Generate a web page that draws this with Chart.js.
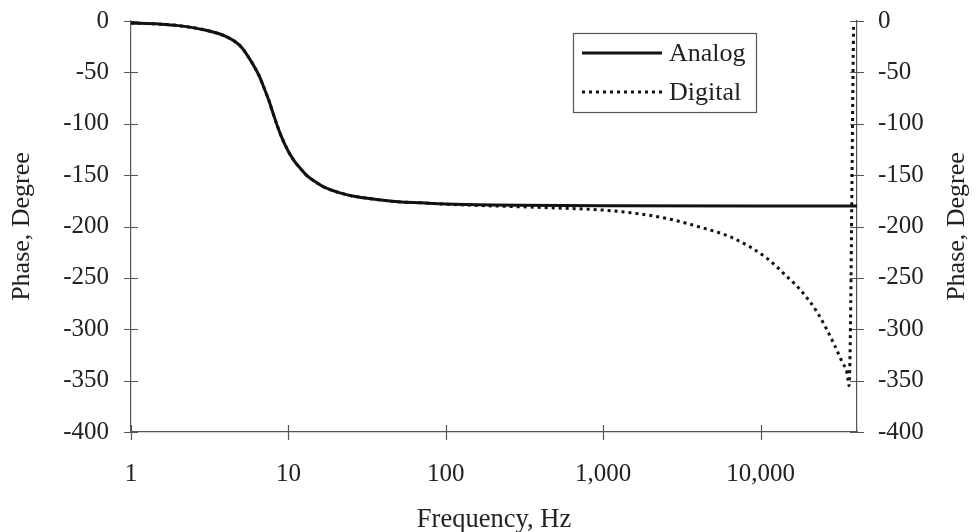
<!DOCTYPE html>
<html>
<head>
<meta charset="utf-8">
<title>Phase response</title>
<script src="https://cdn.jsdelivr.net/npm/chart.js@4.4.1/dist/chart.umd.min.js"></script>
<style>
  html, body { margin: 0; padding: 0; background: #fff; }
</style>
</head>
<body>
<canvas id="phaseChart" width="980" height="532"></canvas>
<script>
// values
const analogFreq  = [1, 1.5, 2, 3, 4, 5, 6, 6.5, 7, 7.5, 8, 8.5, 9, 10, 11, 12, 13, 15, 17, 20, 25, 30, 40, 50, 70, 100, 200, 300, 1000, 41000];
const analogPhase = [-2, -3, -4.5, -9, -15, -25, -43, -53, -65, -77, -90, -102, -112, -127, -137, -144, -150, -157, -162, -166, -170, -172, -174.5, -176, -177, -178, -179, -179.3, -179.7, -180];

const digitalFreq  = [1, 1.5, 2, 3, 4, 5, 6, 6.5, 7, 7.5, 8, 8.5, 9, 10, 11, 12, 13, 15, 17, 20, 25, 30, 40, 50, 70, 100, 200, 300, 500, 1000, 1560, 2500, 4000, 6750, 11000, 15000, 18000, 23000, 29000, 33000, 35500, 36500, 39000];
const digitalPhase = [-2, -3, -4.5, -9, -15, -25, -43, -53, -65, -77, -90, -102, -112, -127, -137, -144, -150, -157, -162, -166, -170, -172, -174.5, -176, -177, -178.3, -180, -180.8, -182, -184, -187, -192, -200, -211.5, -231, -250, -262, -284, -313, -332, -343, -355, -3];

const freqTicks = [1, 10, 100, 1000, 10000];
const freqMin = 1;
const freqMax = 41000;
const phaseMin = -400;
const phaseMax = 0;
const phaseTitle = 'Phase, Degree';

const serif = '"Liberation Serif", "Times New Roman", serif';
const inkColor = '#222';
const axisColor = '#555';

function toPoints(xs, ys) {
    return xs.map((x, i) => ({ x: x, y: ys[i] }));
}

// tick marks that cross the axis line on both sides
const crossTicks = {
    id: 'crossTicks',
    beforeDatasetsDraw(chart) {
        const ctx = chart.ctx;
        ctx.save();
        ctx.strokeStyle = axisColor;
        ctx.lineWidth = 1.2;
        ctx.beginPath();
        ['y', 'y2'].forEach(id => {
            const s = chart.scales[id];
            const x0 = id === 'y' ? s.right : s.left;
            s.ticks.forEach(t => {
                const py = Math.round(s.getPixelForValue(t.value)) + 0.5;
                ctx.moveTo(x0 - 7, py);
                ctx.lineTo(x0 + 7, py);
            });
        });
        const sx = chart.scales.x;
        sx.ticks.forEach(t => {
            const px = Math.round(sx.getPixelForValue(t.value)) + 0.5;
            ctx.moveTo(px, sx.top - 7);
            ctx.lineTo(px, sx.top + 8);
        });
        ctx.stroke();
        ctx.restore();
    },
    // right-hand title reads bottom to top, like the left one
    afterDraw(chart) {
        const ctx = chart.ctx;
        const a = chart.chartArea;
        ctx.save();
        ctx.translate(957, (a.top + a.bottom) / 2);
        ctx.rotate(-Math.PI / 2);
        ctx.fillStyle = inkColor;
        ctx.font = '26px ' + serif;
        ctx.textAlign = 'center';
        ctx.textBaseline = 'middle';
        ctx.fillText(phaseTitle, 0, 0);
        ctx.restore();
    }
};

// boxed legend with long line samples
const boxLegend = {
    id: 'boxLegend',
    afterDraw(chart) {
        const ctx = chart.ctx;
        const a = chart.chartArea;
        const x = a.right - 284, y = a.top + 12, w = 183, h = 79;
        ctx.save();
        ctx.fillStyle = '#fff';
        ctx.fillRect(x, y, w, h);
        ctx.strokeStyle = axisColor;
        ctx.lineWidth = 1.2;
        ctx.strokeRect(x + 0.5, y + 0.5, w, h);
        chart.data.datasets.forEach((ds, i) => {
            const ly = y + 20 + i * 39;
            ctx.strokeStyle = ds.borderColor;
            ctx.lineWidth = ds.borderWidth;
            ctx.setLineDash(ds.borderDash || []);
            ctx.beginPath();
            ctx.moveTo(x + 9, ly);
            ctx.lineTo(x + 89, ly);
            ctx.stroke();
            ctx.setLineDash([]);
            ctx.fillStyle = inkColor;
            ctx.font = '26px ' + serif;
            ctx.textBaseline = 'middle';
            ctx.fillText(ds.label, x + 96, ly + 1);
        });
        ctx.restore();
    }
};

function phaseAxis(position, width, showTitle, labelPad) {
    return {
        type: 'linear',
        position: position,
        min: phaseMin,
        max: phaseMax,
        ticks: {
            stepSize: 50,
            color: inkColor,
            padding: labelPad,
            font: { family: serif, size: 25 }
        },
        grid: { display: false, drawTicks: false },
        border: { display: true, color: axisColor, width: 1.2 },
        title: {
            display: showTitle,
            text: phaseTitle,
            color: inkColor,
            padding: 7,
            font: { family: serif, size: 26 }
        },
        afterFit(scale) {
            scale.width = width;
            // label padding would otherwise push the plot top down
            scale.paddingTop = 0;
            scale.paddingBottom = 0;
        }
    };
}

const ctx = document.getElementById('phaseChart').getContext('2d');
new Chart(ctx, {
    type: 'line',
    data: {
        datasets: [{
            label: 'Analog',
            data: toPoints(analogFreq, analogPhase),
            borderColor: '#111',
            borderWidth: 3,
            pointRadius: 0,
            cubicInterpolationMode: 'monotone',
            yAxisID: 'y'
        }, {
            label: 'Digital',
            data: toPoints(digitalFreq, digitalPhase),
            borderColor: '#111',
            borderWidth: 3,
            borderDash: [3, 4],
            pointRadius: 0,
            cubicInterpolationMode: 'monotone',
            yAxisID: 'y'
        }]
    },
    options: {
        responsive: false,
        animation: false,
        layout: { padding: { top: 21 } },
        plugins: {
            legend: { display: false },
            tooltip: { enabled: false }
        },
        scales: {
            x: {
                type: 'logarithmic',
                min: freqMin,
                max: freqMax,
                afterBuildTicks(scale) {
                    scale.ticks = freqTicks.map(v => ({ value: v }));
                },
                ticks: {
                    color: inkColor,
                    padding: 27,
                    autoSkip: false,
                    maxRotation: 0,
                    font: { family: serif, size: 25 },
                    callback: v => Number(v).toLocaleString('en-US')
                },
                grid: { display: false, drawTicks: false },
                border: { display: true, color: axisColor, width: 1.2 },
                title: {
                    display: true,
                    text: 'Frequency, Hz',
                    color: inkColor,
                    padding: { top: 0, bottom: -4 },
                    font: { family: serif, size: 26.5 }
                },
                afterFit(scale) { scale.height = 100; }
            },
            y: phaseAxis('left', 131, true, 22),
            y2: phaseAxis('right', 123, false, 21)
        }
    },
    plugins: [crossTicks, boxLegend]
});
</script>
</body>
</html>
